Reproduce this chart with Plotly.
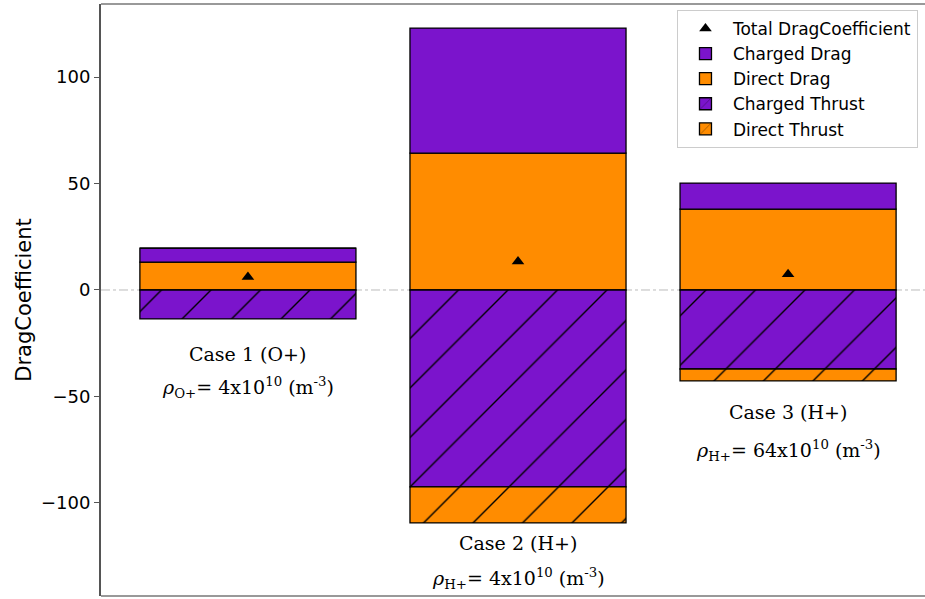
import plotly.graph_objects as go

cases = [0, 1, 2]
direct_drag = [13.1, 64.3, 38.0]
charged_drag = [6.6, 58.7, 12.2]
charged_thrust = [-13.6, -92.5, -37.1]
direct_thrust = [0.0, -16.9, -5.6]
total_drag = [6.1, 13.4, 7.4]

case_titles = ["Case 1 (O+)", "Case 2 (H+)", "Case 3 (H+)"]
density_labels = [
    "<i>ρ</i><sub>O+</sub>= 4x10<sup>10</sup> (m<sup>-3</sup>)",
    "<i>ρ</i><sub>H+</sub>= 4x10<sup>10</sup> (m<sup>-3</sup>)",
    "<i>ρ</i><sub>H+</sub>= 64x10<sup>10</sup> (m<sup>-3</sup>)",
]
title_y = [-30, -119, -57.5]
density_y = [-46, -135.5, -75.5]

PURPLE = "#7B14CC"
ORANGE = "#FF8C00"

fig = go.Figure()
edge = dict(color="black", width=1.3)
hatch = dict(shape="/", fgcolor="black", fgopacity=1, size=35, solidity=0.04)
fig.add_trace(go.Bar(x=cases, y=direct_drag, name="Direct Drag", marker=dict(color=ORANGE, line=edge),
                     width=0.8, legendrank=3))
fig.add_trace(go.Bar(x=cases, y=charged_drag, name="Charged Drag", marker=dict(color=PURPLE, line=edge),
                     width=0.8, legendrank=2))
fig.add_trace(go.Bar(x=cases, y=charged_thrust, name="Charged Thrust",
                     marker=dict(color=PURPLE, line=edge, pattern=dict(hatch, bgcolor=PURPLE)),
                     width=0.8, legendrank=4))
fig.add_trace(go.Bar(x=cases, y=direct_thrust, name="Direct Thrust",
                     marker=dict(color=ORANGE, line=edge, pattern=dict(hatch, bgcolor=ORANGE)),
                     width=0.8, legendrank=5))
fig.add_trace(go.Scatter(x=cases, y=total_drag, mode="markers", name="Total DragCoefficient",
                         marker=dict(symbol="triangle-up", color="black", size=11), legendrank=1))

for i in range(3):
    fig.add_annotation(x=cases[i], y=title_y[i], text=case_titles[i], showarrow=False,
                       font=dict(family="DejaVu Serif", size=19, color="black"))
    fig.add_annotation(x=cases[i], y=density_y[i], text=density_labels[i], showarrow=False,
                       font=dict(family="DejaVu Serif", size=19, color="black"))

# zero dashed line
fig.add_shape(type="line", xref="paper", x0=0, x1=1, yref="y", y0=0, y1=0,
              line=dict(color="#BBBBBB", width=1, dash="dashdot"), layer="below")
# frame lines (top and bottom)
fig.add_shape(type="line", xref="paper", x0=0, x1=1, yref="paper", y0=1, y1=1,
              line=dict(color="#999999", width=2))
fig.add_shape(type="line", xref="paper", x0=0, x1=1, yref="paper", y0=0, y1=0,
              line=dict(color="#999999", width=2))

fig.update_layout(
    width=925, height=599,
    margin=dict(l=101, r=0, t=4, b=3, autoexpand=False),
    barmode="relative",
    bargap=0.2,
    plot_bgcolor="white", paper_bgcolor="white",
    font=dict(family="DejaVu Sans", color="black"),
    showlegend=True,
    legend=dict(x=0.699, y=0.99, xanchor="left", yanchor="top",
                bgcolor="rgba(255,255,255,0.9)", bordercolor="#CCCCCC", borderwidth=1,
                font=dict(family="DejaVu Sans", size=17), tracegroupgap=0, itemwidth=45),
    xaxis=dict(range=[-0.544, 2.507], showticklabels=False, ticks="", showgrid=False,
               zeroline=False, showline=False),
    yaxis=dict(range=[-143.7, 134.3], tickvals=[-100, -50, 0, 50, 100],
               ticktext=["\u2212100", "\u221250", "0", "50", "100"],
               ticks="outside", ticklen=5, tickcolor="#555555", showgrid=False, zeroline=False,
               showline=True, linecolor="#555555", linewidth=2,
               tickfont=dict(size=18, family="DejaVu Sans"),
               title=dict(text="DragCoefficient", font=dict(size=21, family="DejaVu Sans"), standoff=4)),
)

fig.write_html("out.html", config={"displayModeBar": False},
               post_script="document.body.style.margin='0';")
